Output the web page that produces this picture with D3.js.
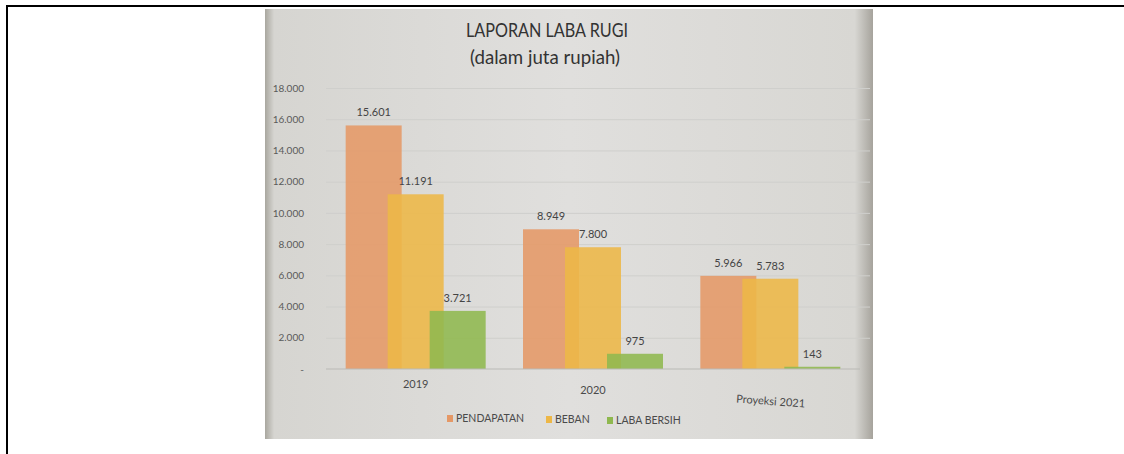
<!DOCTYPE html>
<html lang="en">
<head>
    <meta charset="UTF-8">
    <title>Laporan Laba Rugi</title>
    <script src="https://d3js.org/d3.v7.min.js"></script>
    <style>
        body {
            margin: 0;
            background: #fff;
        }
        svg text {
            font-family: Lato, "Open Sans", sans-serif;
        }
        .grid line {
            stroke: #cfcfcc;
            stroke-width: 1;
        }
        .axis-y text {
            fill: #5a5a5a;
            font-size: 10px;
        }
        .bar-label {
            fill: #444;
            font-size: 11px;
            text-anchor: middle;
        }
        .title {
            fill: #333;
            font-size: 20px;
            text-anchor: middle;
        }
    </style>
</head>
<body>
    <div id="chart"></div>

    <script>
        // data (juta rupiah)
        const years = ["2019", "2020", "Proyeksi 2021"];
        const series = ["PENDAPATAN", "BEBAN", "LABA BERSIH"];
        const pendapatan = [15601, 8949, 5966];
        const beban = [11191, 7800, 5783];
        const labaBersih = [3721, 975, 143];
        const yTicks = [0, 2000, 4000, 6000, 8000, 10000, 12000, 14000, 16000, 18000];

        const colors = ["#e59866", "#edb747", "#8fb84f"];
        const values = [pendapatan, beban, labaBersih];

        const svg = d3.select("#chart")
            .append("svg")
            .attr("width", 1124)
            .attr("height", 454);

        // page frame
        svg.append("line").attr("x1", 6).attr("x2", 1124).attr("y1", 6).attr("y2", 6)
            .attr("stroke", "#000").attr("stroke-width", 2);
        svg.append("line").attr("x1", 7).attr("x2", 7).attr("y1", 5).attr("y2", 454)
            .attr("stroke", "#000").attr("stroke-width", 2);

        // photographed paper background
        const defs = svg.append("defs");
        const grad = defs.append("linearGradient").attr("id", "paper")
            .attr("x1", 0).attr("x2", 1).attr("y1", 0).attr("y2", 0);
        grad.append("stop").attr("offset", "0%").attr("stop-color", "#a9a79f");
        grad.append("stop").attr("offset", "1.5%").attr("stop-color", "#d6d5d1");
        grad.append("stop").attr("offset", "50%").attr("stop-color", "#e0dfdd");
        grad.append("stop").attr("offset", "97%").attr("stop-color", "#d8d7d3");
        grad.append("stop").attr("offset", "100%").attr("stop-color", "#a6a39c");
        svg.append("rect")
            .attr("x", 265).attr("y", 9)
            .attr("width", 608).attr("height", 430)
            .attr("fill", "url(#paper)");

        const x = d3.scaleBand()
            .domain(years)
            .range([327, 859]);

        const inner = d3.scalePoint()
            .domain(series)
            .range([-42, 42]);

        const barWidth = 56;

        const y = d3.scaleLinear()
            .domain([0, 18000])
            .range([369, 88]);

        // gridlines
        svg.append("g")
            .attr("class", "grid")
            .attr("transform", "translate(326,0)")
            .call(d3.axisLeft(y).tickValues(yTicks.slice(1)).tickSize(-544).tickFormat(""))
            .call(g => g.select(".domain").remove());

        // y axis labels
        const fmt = d3.formatLocale({ decimal: ",", thousands: ".", grouping: [3], currency: ["", ""] }).format(",d");
        svg.append("g")
            .attr("class", "axis-y")
            .attr("transform", "translate(310,0)")
            .call(d3.axisLeft(y).tickValues(yTicks).tickSize(0).tickPadding(6)
                .tickFormat(d => d === 0 ? "-" : fmt(d)))
            .call(g => g.select(".domain").remove());

        // bars
        series.forEach((s, si) => {
            svg.append("g")
                .selectAll("rect")
                .data(years)
                .enter()
                .append("rect")
                .attr("x", (d, i) => x(d) + x.bandwidth() / 2 + inner(s) - barWidth / 2)
                .attr("y", (d, i) => y(values[si][i]))
                .attr("width", barWidth)
                .attr("height", (d, i) => y(0) - y(values[si][i]))
                .attr("fill", colors[si])
                .attr("fill-opacity", 0.88);

            svg.append("g")
                .selectAll("text")
                .data(years)
                .enter()
                .append("text")
                .attr("class", "bar-label")
                .attr("x", (d, i) => x(d) + x.bandwidth() / 2 + inner(s))
                .attr("y", (d, i) => y(values[si][i]) - 9)
                .text((d, i) => fmt(values[si][i]));
        });

        // baseline
        svg.append("line")
            .attr("x1", 326).attr("x2", 860)
            .attr("y1", y(0)).attr("y2", y(0))
            .attr("stroke", "#b9b9b6").attr("stroke-width", 1.2);

        // category labels (photo is a bit tilted, so the last one sits lower)
        const labelDrop = [0, 6, 17];
        svg.append("g")
            .selectAll("text")
            .data(years)
            .enter()
            .append("text")
            .attr("transform", (d, i) => `translate(${x(d) + x.bandwidth() / 2},${y(0) + 19 + labelDrop[i]}) rotate(${i === 2 ? 4 : 0})`)
            .attr("text-anchor", "middle")
            .attr("fill", "#4a4a4a")
            .attr("font-size", 11)
            .text(d => d);

        // title
        svg.append("text")
            .attr("class", "title")
            .attr("x", 547).attr("y", 37)
            .attr("textLength", 162)
            .attr("lengthAdjust", "spacingAndGlyphs")
            .text("LAPORAN LABA RUGI");
        svg.append("text")
            .attr("class", "title")
            .attr("x", 545).attr("y", 64)
            .attr("textLength", 150)
            .attr("lengthAdjust", "spacingAndGlyphs")
            .text("(dalam juta rupiah)");

        // legend
        const legendX = [447, 546, 607];
        const legend = svg.append("g");
        series.forEach((s, si) => {
            legend.append("rect")
                .attr("x", legendX[si]).attr("y", 415 + si)
                .attr("width", 6).attr("height", 7)
                .attr("fill", colors[si]);
            legend.append("text")
                .attr("x", legendX[si] + 9).attr("y", 422 + si)
                .attr("fill", "#4a4a4a")
                .attr("font-size", 10.5)
                .text(s);
        });
    </script>
</body>
</html>
